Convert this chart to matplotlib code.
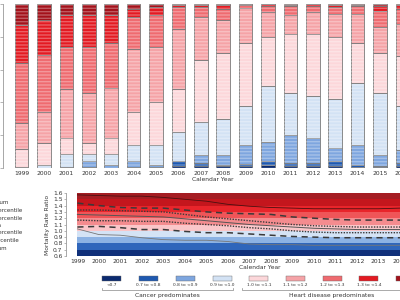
import matplotlib
matplotlib.use("Agg")
import matplotlib.pyplot as plt
from matplotlib.lines import Line2D
from matplotlib.patches import Rectangle
import numpy as np

years = list(range(1999, 2017))
categories = ["<0.7", "0.7 to <0.8", "0.8 to <0.9", "0.9 to <1.0", "1.0 to <1.1",
              "1.1 to <1.2", "1.2 to <1.3", "1.3 to <1.4", "\u22651.4"]
cat_colors = ["#0b2a6f", "#1f59b0", "#7ea6df", "#d3e2f4", "#fcd7da",
              "#f5a3a7", "#ef6b70", "#e31a22", "#a3121b"]

# share (%) of counties in each category, per year (rows = years)
shares = [
    [0, 0, 0, 0.5, 11.1, 15.8, 36.6, 23, 13],
    [0, 0, 0, 2, 13, 19, 35, 21, 10],
    [0, 0, 0.5, 8, 9.5, 30, 26, 19, 7],
    [0, 0.5, 3.5, 4.5, 6.5, 31, 28, 19, 7],
    [0, 0, 2, 6.5, 9.5, 31, 27, 17, 7],
    [0, 0.5, 3.5, 10, 20, 38.5, 19.5, 5, 3],
    [0, 0.5, 1.5, 12, 26, 34, 19, 5, 2],
    [1.5, 2.5, 0.5, 17.5, 26, 37, 13, 1.5, 0.5],
    [1, 2, 5, 20, 38, 26, 6, 1.5, 0.5],
    [1, 1, 6, 22, 40, 20, 7, 2.5, 0.5],
    [1, 1.5, 11.5, 24, 38, 21.5, 2, 0.5, 0],
    [2, 2, 12, 34, 30, 15, 4, 0.8, 0.2],
    [1.5, 1.5, 17, 26, 36, 11, 5.5, 1, 0.5],
    [1.5, 1.5, 15, 26, 38, 13, 4, 0.8, 0.2],
    [1.5, 2.5, 8, 30, 38, 14, 4, 1.5, 0.5],
    [0.5, 1.5, 12, 38, 24, 18, 4.5, 1, 0.5],
    [0.5, 1, 6.5, 38, 24, 16, 10, 3, 1],
    [1, 2, 8, 27, 30, 20, 9, 2.5, 0.5],
]

# percentile lines of the mortality rate ratio
p_max = [1.57, 1.56, 1.55, 1.55, 1.53, 1.50, 1.47, 1.42, 1.39, 1.37, 1.36, 1.35, 1.35, 1.35, 1.35, 1.36, 1.37, 1.38]
p95 = [1.44, 1.40, 1.37, 1.36, 1.36, 1.33, 1.30, 1.28, 1.27, 1.26, 1.22, 1.20, 1.18, 1.17, 1.17, 1.17, 1.18, 1.19]
p75 = [1.33, 1.33, 1.32, 1.31, 1.30, 1.26, 1.22, 1.19, 1.16, 1.13, 1.10, 1.08, 1.07, 1.06, 1.06, 1.06, 1.07, 1.08]
p50 = [1.26, 1.25, 1.24, 1.23, 1.22, 1.19, 1.16, 1.13, 1.10, 1.08, 1.06, 1.04, 1.03, 1.02, 1.02, 1.02, 1.02, 1.03]
p25 = [1.17, 1.16, 1.16, 1.15, 1.15, 1.12, 1.10, 1.08, 1.05, 1.03, 1.00, 0.98, 0.97, 0.97, 0.97, 0.97, 0.97, 0.97]
p5 = [1.06, 1.07, 1.05, 1.02, 1.02, 0.99, 0.97, 0.97, 0.95, 0.93, 0.91, 0.90, 0.89, 0.89, 0.89, 0.89, 0.89, 0.89]
p_min = [1.03, 0.94, 0.93, 0.89, 0.86, 0.85, 0.85, 0.83, 0.79, 0.78, 0.78, 0.77, 0.77, 0.77, 0.77, 0.77, 0.77, 0.77]
line_labels = ["Maximum", "95th Percentile", "75th Percentile", "Median",
               "25th Percentile", "5th Percentile", "Minimum"]

band_edges = [0.6, 0.7, 0.8, 0.9, 1.0, 1.1, 1.2, 1.3, 1.4, 1.5, 1.6]
band_colors = ["#10307a", "#2f66bb", "#8cb2e3", "#d4e3f5", "#fac6c9",
               "#f48c8f", "#ef5558", "#e8252b", "#c4161d", "#a51d23"]

W, H = 400, 300
fig = plt.figure(figsize=(4, 3), dpi=100)
txt = "#333333"

def fx(px):
    return px / W

def fy(py):
    return 1 - py / H

# ---------------- top: stacked bars ----------------
x0, x1 = 1998.17, 2016.9
ax1 = fig.add_axes([fx(3), fy(168), (x1 - x0) * 22.4 / W, 164 / H])
S = np.array(shares)
bottom = np.zeros(len(years))
for k in range(len(categories)):
    ax1.bar(years, S[:, k], bottom=bottom, width=0.6, color=cat_colors[k],
            edgecolor="#7a7a7a", linewidth=0.6, zorder=2)
    ax1.bar(years, S[:, k], bottom=bottom, width=0.6, color="none",
            edgecolor=(1, 1, 1, 0.3), hatch="-----", linewidth=0, zorder=3)
    bottom += S[:, k]
ax1.set_xlim(x0, x1)
ax1.set_ylim(0, 100)
ax1.set_xticks(years)
ax1.set_xticklabels([str(y) for y in years], fontsize=4.3, color=txt)
ax1.set_yticks([0, 20, 40, 60, 80, 100])
ax1.set_yticklabels([])
ax1.tick_params(axis="x", length=0, pad=2)
ax1.tick_params(axis="y", length=2, width=0.5, color="#999999")
for s in ["top", "right", "bottom"]:
    ax1.spines[s].set_visible(False)
ax1.spines["left"].set_color("#999999")
ax1.spines["left"].set_linewidth(0.6)
ax1.set_xlabel("Calendar Year", fontsize=4.3, color=txt, labelpad=1)

# ---------------- bottom: percentile bands ----------------
bx0, bx1 = 1998.47, 2016.5
ax2 = fig.add_axes([fx(66), fy(256), (bx1 - bx0) * 21.5 / W, 63 / H])
for lo, hi, c in zip(band_edges[:-1], band_edges[1:], band_colors):
    ax2.fill_between(years, [lo] * len(years), [hi] * len(years), color=c, linewidth=0, zorder=1)
styles = [
    dict(ls="-", lw=0.6, color="#4a1010"),
    dict(ls=(0, (4, 3)), lw=1.1, color="#3a3a3a"),
    dict(ls=(0, (1, 1)), lw=1.0, color="#3a3a3a"),
    dict(ls="-", lw=0.7, color="#555555"),
    dict(ls=(0, (1, 1)), lw=1.0, color="#3a3a3a"),
    dict(ls=(0, (4, 3)), lw=1.1, color="#3a3a3a"),
    dict(ls="-", lw=0.6, color="#777777"),
]
series = [p_max, p95, p75, p50, p25, p5, p_min]
for ser, st in zip(series, styles):
    ax2.plot(years, ser, zorder=3, **st)
ax2.set_xlim(bx0, bx1)
ax2.set_ylim(0.6, 1.6)
ax2.set_xticks(years)
ax2.set_xticklabels([str(y) for y in years], fontsize=4.3, color=txt)
ax2.set_yticks([0.6, 0.7, 0.8, 0.9, 1.0, 1.1, 1.2, 1.3, 1.4, 1.5, 1.6])
ax2.set_yticklabels(["0.6", "0.7", "0.8", "0.9", "1.0", "1.1", "1.2", "1.3", "1.4", "1.5", "1.6"],
                    fontsize=4.3, color=txt)
ax2.tick_params(axis="x", length=0, pad=2)
ax2.tick_params(axis="y", length=1.5, width=0.5, color="#999999", pad=1)
for s in ["top", "right", "bottom"]:
    ax2.spines[s].set_visible(False)
ax2.spines["left"].set_color("#999999")
ax2.spines["left"].set_linewidth(0.6)
ax2.set_xlabel("Calendar Year", fontsize=4.3, color=txt, labelpad=1)
ax2.set_ylabel("Mortality Rate Ratio", fontsize=4.3, color=txt, labelpad=2)

# left legend for percentile lines (partly outside the canvas, as in the reference)
for i, (lab, st) in enumerate(zip(line_labels, styles)):
    yy = fy(203 + 7.5 * i)
    fig.add_artist(Line2D([fx(-40), fx(-24)], [yy, yy], transform=fig.transFigure, **st))
    fig.text(fx(-19), yy, lab, fontsize=4, color=txt, va="center", ha="left")

# bottom category legend
for i, (lab, c) in enumerate(zip(categories, cat_colors)):
    cx = 112 + 36.7 * i
    fig.add_artist(Rectangle((fx(cx - 9.5), fy(281)), fx(19), 5 / H, transform=fig.transFigure,
                             facecolor=c, edgecolor="#666666", linewidth=0.3))
    fig.text(fx(cx), fy(285), lab, fontsize=3.2, color=txt, ha="center", va="center")

def bracket(xa, xb, label):
    yb = fy(290)
    fig.add_artist(Line2D([fx(xa), fx(xa), fx(xb), fx(xb)], [fy(288), yb, yb, fy(288)],
                          transform=fig.transFigure, color="#888888", lw=0.5))
    fig.text(fx((xa + xb) / 2), fy(296), label, fontsize=4.3, color=txt, ha="center", va="center")

bracket(102, 233, "Cancer predominates")
bracket(242, 421, "Heart disease predominates")

fig.savefig("out.png", dpi=100)
